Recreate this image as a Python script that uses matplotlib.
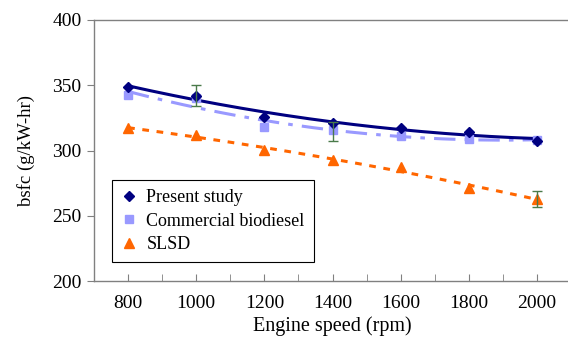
import matplotlib
matplotlib.use("Agg")
import matplotlib.pyplot as plt
import numpy as np

speed = [800, 1000, 1200, 1400, 1600, 1800, 2000]
present = [349, 342, 325.5, 321, 317.5, 314, 307.5]
commercial = [342.5, 340, 318, 315.5, 311, 309, 308]
slsd = [317, 312, 300.5, 292.5, 287, 271.5, 263]

# error bars shown at one point per series
err_present = (1000, 342, 8)
err_commercial = (1400, 314.5, 7.5)
err_slsd = (2000, 263, 6)

plt.rcParams["font.family"] = ["Liberation Serif", "DejaVu Serif"]

fig = plt.figure(figsize=(5.68, 3.44), dpi=100)
ax = fig.add_axes([0.1655, 0.183, 0.84, 0.759])

xs = np.linspace(800, 2000, 200)
fit_p = np.polyval(np.polyfit(speed, present, 2), xs)
fit_c = np.polyval(np.polyfit(speed, commercial, 2), xs)
fit_s = np.polyval(np.polyfit(speed, slsd, 2), xs)

ax.plot(xs, fit_c, color="#9999ff", lw=2.2, dashes=(7, 3, 1.5, 3), zorder=2)
ax.plot(xs, fit_s, color="#ff6600", lw=2.2, dashes=(2.2, 2.5), zorder=2)
ax.plot(xs, fit_p, color="#000080", lw=2.2, zorder=3)

ax.plot(speed, commercial, "s", color="#9999ff", ms=5.5, label="Commercial biodiesel", zorder=4)
ax.plot(speed, slsd, "^", color="#ff6600", ms=6.5, label="SLSD", zorder=4)
ax.plot(speed, present, "D", color="#000080", ms=5, label="Present study", zorder=5)

for x, y, e in (err_present, err_commercial, err_slsd):
    ax.errorbar([x], [y], yerr=[e], fmt="none", ecolor="#4a7a4a", elinewidth=1.0,
                capsize=3.5, capthick=1.0, zorder=6)

ax.set_xlim(700, 2100)
ax.set_ylim(200, 400)
ax.set_xticks(speed)
ax.set_xticks(np.arange(800, 2001, 100), minor=True)
ax.set_yticks([200, 250, 300, 350, 400])
ax.tick_params(axis="x", which="both", direction="in", length=5, color="#808080",
               labelsize=14, pad=10)
ax.tick_params(axis="y", direction="out", length=5, color="#808080", labelsize=14, pad=4)
for s in ax.spines.values():
    s.set_color("#808080")
    s.set_linewidth(1.0)

ax.set_xlabel("Engine speed (rpm)", fontsize=14.5, labelpad=3)
ax.set_ylabel("bsfc (g/kW-hr)", fontsize=13.5, labelpad=12)

h, l = ax.get_legend_handles_labels()
order = [2, 0, 1]
leg = ax.legend([h[i] for i in order], [l[i] for i in order],
                loc="lower left", bbox_to_anchor=(0.038, 0.073), borderaxespad=0,
                fontsize=13, fancybox=False, framealpha=1, edgecolor="black",
                handlelength=0.9, handletextpad=0.5, borderpad=0.5, labelspacing=0.35)
leg.get_frame().set_linewidth(0.8)

fig.savefig("out.png", dpi=100)
